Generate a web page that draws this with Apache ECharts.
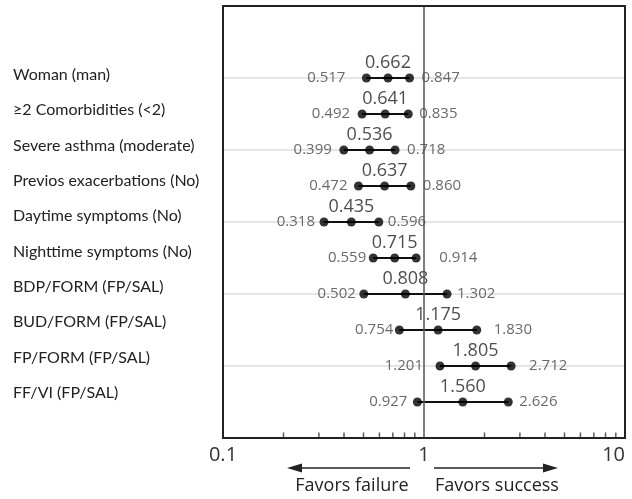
<!DOCTYPE html>
<html><head><meta charset="utf-8">
<script src="https://cdn.jsdelivr.net/npm/echarts@6/dist/echarts.min.js"></script>
<style>html,body{margin:0;padding:0;background:#fff}#c{width:632px;height:499px}</style>
</head><body><div id="c"></div>
<script>
const categories = ["Woman (man)", "\u22652 Comorbidities (<2)", "Severe asthma (moderate)", "Previos exacerbations (No)", "Daytime symptoms (No)", "Nighttime symptoms (No)", "BDP/FORM (FP/SAL)", "BUD/FORM (FP/SAL)", "FP/FORM (FP/SAL)", "FF/VI (FP/SAL)"];
const oddsRatio = [0.662, 0.641, 0.536, 0.637, 0.435, 0.715, 0.808, 1.175, 1.805, 1.560];
const lowerCI = [0.517, 0.492, 0.399, 0.472, 0.318, 0.559, 0.502, 0.754, 1.201, 0.927];
const upperCI = [0.847, 0.835, 0.718, 0.860, 0.596, 0.914, 1.302, 1.830, 2.712, 2.626];
const minorTickValues = [0.2,0.3,0.4,0.5,0.6,0.7,0.8,0.9,2,3,4,5,6,7,8,9];
const xTickLabels = ["0.1", "1", "10"];
const favorLabels = ["Favors failure", "Favors success"];

// label gaps (styling only)
const lowerGap = [21, 12, 12, 11, 9, 7, 8, 6, 17, 10];
const upperGap = [12, 11, 12, 12, 9, 23, 10, 17, 18, 11];

const FONT = "Open Sans";
const LFONT = "Lato";
const chart = echarts.init(document.getElementById('c'), null, {renderer: 'canvas'});
const fmt = v => v.toFixed(3);
const tickLabel = v => {
  const e = Math.round(Math.log10(v)) + 1;
  return xTickLabels[e] !== undefined ? xTickLabels[e] : '';
};

const borderAxis = {show: true, axisLine: {show: true, lineStyle: {color: '#222', width: 2}},
  axisTick: {show: false}, axisLabel: {show: false}, splitLine: {show: false}, z: 6};

const option = {
  animation: false,
  textStyle: {fontFamily: FONT},
  grid: [
    {left: 223, right: 7, top: 6, bottom: 61, show: false},
    {left: 223, right: 7, top: 57.3, height: 353.3, show: false}
  ],
  xAxis: [
    {type: 'log', logBase: 10, min: 0.1, max: 10, gridIndex: 0, z: 6,
     axisLine: {show: true, onZero: false, lineStyle: {color: '#222', width: 2}},
     axisTick: {show: false}, splitLine: {show: false},
     axisLabel: {fontSize: 20, color: '#333', margin: 7, fontFamily: FONT,
       alignMaxLabel: 'right', formatter: tickLabel}},
    {type: 'value', gridIndex: 1, show: false, min: 0, max: 1},
    Object.assign({type: 'value', gridIndex: 0, position: 'top', min: 0, max: 1}, borderAxis,
      {axisLine: {show: true, onZero: false, lineStyle: {color: '#222', width: 2}}})
  ],
  yAxis: [
    {type: 'value', gridIndex: 0, min: -2, max: 10, interval: 2, inverse: true,
     axisLine: {show: false}, axisTick: {show: false}, axisLabel: {show: false},
     splitLine: {show: true, lineStyle: {color: '#dcdcdc', width: 1.5}}},
    {type: 'category', gridIndex: 1, inverse: true, data: categories,
     axisLine: {show: false}, axisTick: {show: false}, splitLine: {show: false},
     axisLabel: {align: 'left', margin: 210, fontSize: 16, color: '#222', fontFamily: LFONT}},
    Object.assign({type: 'value', gridIndex: 0, position: 'left', min: 0, max: 1}, borderAxis,
      {axisLine: {show: true, onZero: false, lineStyle: {color: '#222', width: 2}}}),
    Object.assign({type: 'value', gridIndex: 0, position: 'right', min: 0, max: 1}, borderAxis,
      {axisLine: {show: true, onZero: false, lineStyle: {color: '#222', width: 2}}})
  ],
  series: [
    {type: 'custom', xAxisIndex: 0, yAxisIndex: 0, z: 3,
     data: categories.map((c, i) => [lowerCI[i], upperCI[i], i]),
     renderItem: (params, api) => {
       const a = api.coord([api.value(0), api.value(2)]);
       const b = api.coord([api.value(1), api.value(2)]);
       return {type: 'line', shape: {x1: a[0], y1: a[1], x2: b[0], y2: b[1]},
               style: {stroke: '#111', lineWidth: 2}};
     },
     markLine: {silent: true, symbol: 'none', label: {show: false},
       lineStyle: {color: '#555', width: 1.5, type: 'solid'},
       data: [{xAxis: 1}]}
    },
    {type: 'scatter', xAxisIndex: 0, yAxisIndex: 0, z: 4, symbolSize: 9,
     itemStyle: {color: '#000'},
     data: lowerCI.map((v, i) => ({value: [v, i],
       label: {show: true, position: 'left', distance: lowerGap[i] - 4.5, formatter: fmt(v),
               fontSize: 15, color: '#444', fontFamily: FONT}}))},
    {type: 'scatter', xAxisIndex: 0, yAxisIndex: 0, z: 4, symbolSize: 9,
     itemStyle: {color: '#000'},
     data: oddsRatio.map((v, i) => ({value: [v, i],
       label: {show: true, position: 'top', distance: 2, formatter: fmt(v),
               fontSize: 18, color: '#222', fontFamily: FONT}}))},
    {type: 'scatter', xAxisIndex: 0, yAxisIndex: 0, z: 4, symbolSize: 9,
     itemStyle: {color: '#000'},
     data: upperCI.map((v, i) => ({value: [v, i],
       label: {show: true, position: 'right', distance: upperGap[i] - 4.5, formatter: fmt(v),
               fontSize: 15, color: '#444', fontFamily: FONT}}))},
    {type: 'scatter', xAxisIndex: 0, yAxisIndex: 0, z: 5, clip: false, silent: true,
     symbol: 'rect', symbolSize: [1.5, 5], symbolOffset: [0, -3],
     itemStyle: {color: '#333'},
     data: minorTickValues.map(v => [v, 10])}
  ],
  graphic: [
    {type: 'line', shape: {x1: 410, y1: 468, x2: 298, y2: 468}, style: {stroke: '#222', lineWidth: 1.5}},
    {type: 'polygon', shape: {points: [[287, 468], [302, 463.5], [302, 472.5]]}, style: {fill: '#222'}},
    {type: 'line', shape: {x1: 434, y1: 468, x2: 547, y2: 468}, style: {stroke: '#222', lineWidth: 1.5}},
    {type: 'polygon', shape: {points: [[558, 468], [543, 463.5], [543, 472.5]]}, style: {fill: '#222'}},
    {type: 'text', x: 352, y: 486, style: {text: favorLabels[0], font: '18px "Open Sans"', fill: '#222', textAlign: 'center', textVerticalAlign: 'middle'}},
    {type: 'text', x: 497, y: 486, style: {text: favorLabels[1], font: '18px "Open Sans"', fill: '#222', textAlign: 'center', textVerticalAlign: 'middle'}}
  ]
};
chart.setOption(option);
</script>
</body></html>
